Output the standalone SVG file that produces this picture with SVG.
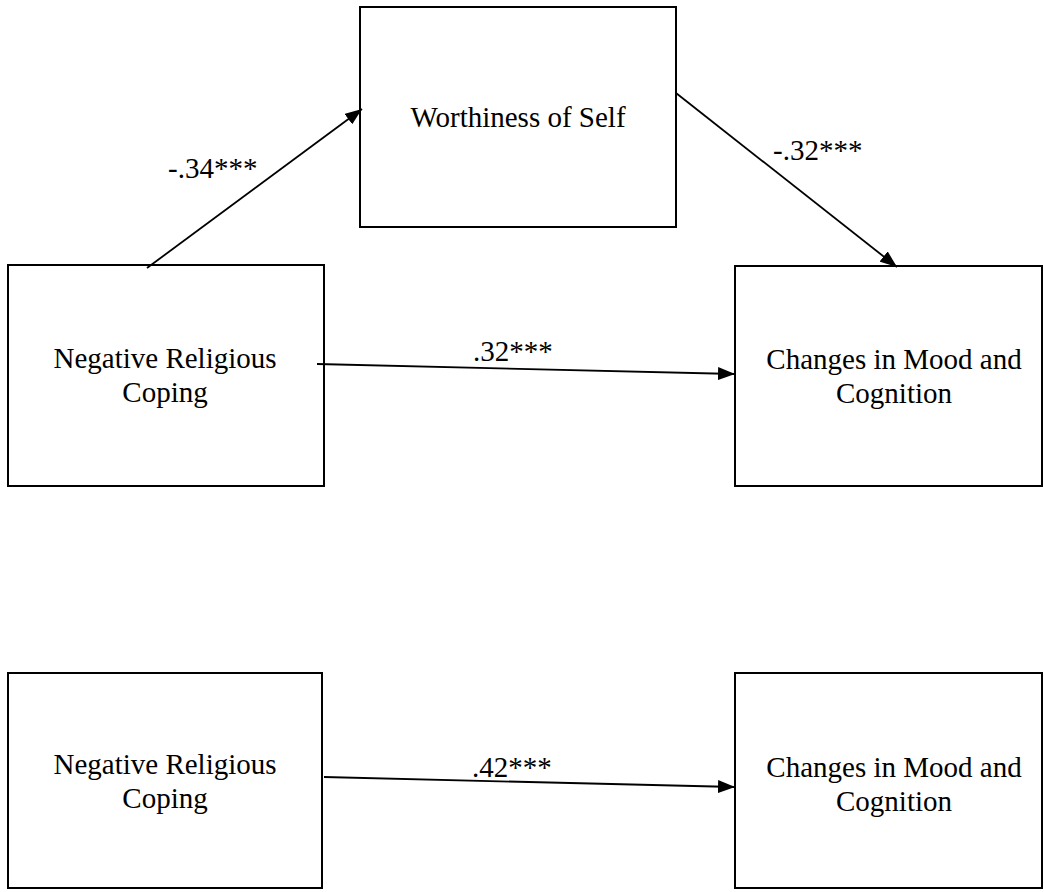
<svg xmlns="http://www.w3.org/2000/svg" width="1044" height="892" viewBox="0 0 1044 892">
  <style>
    .box { fill: #fff; stroke: #000; stroke-width: 2; }
    .lbl { font-family: "Liberation Serif", "Times New Roman", serif; font-size: 29px; fill: #000; }
    .mid { text-anchor: middle; }
    .edge { stroke: #000; stroke-width: 1.8; fill: none; marker-end: url(#arrow); }
  </style>
  <defs>
    <marker id="arrow" markerWidth="17" markerHeight="13" refX="17" refY="6.5" orient="auto" markerUnits="userSpaceOnUse">
      <path d="M0,0 L17,6.5 L0,13 Z" fill="#000"/>
    </marker>
  </defs>

  <!-- Mediation model -->
  <g id="worthiness">
    <rect class="box" x="360" y="7" width="316" height="220"/>
    <text class="lbl mid" x="518" y="127">Worthiness of Self</text>
  </g>
  <g id="coping-top">
    <rect class="box" x="8" y="265" width="316" height="221"/>
    <text class="lbl mid" x="165" y="368">Negative Religious</text>
    <text class="lbl mid" x="165" y="402">Coping</text>
  </g>
  <g id="mood-top">
    <rect class="box" x="735" y="266" width="307" height="220"/>
    <text class="lbl mid" x="894" y="369">Changes in Mood and</text>
    <text class="lbl mid" x="894" y="403">Cognition</text>
  </g>

  <!-- Direct-effect model -->
  <g id="coping-bottom">
    <rect class="box" x="8" y="673" width="314" height="215"/>
    <text class="lbl mid" x="165" y="774">Negative Religious</text>
    <text class="lbl mid" x="165" y="808">Coping</text>
  </g>
  <g id="mood-bottom">
    <rect class="box" x="735" y="673" width="307" height="215"/>
    <text class="lbl mid" x="894" y="777">Changes in Mood and</text>
    <text class="lbl mid" x="894" y="811">Cognition</text>
  </g>

  <g id="connectors">
    <line class="edge" x1="147" y1="268" x2="362" y2="109"/>
    <line class="edge" x1="676" y1="93" x2="897" y2="267"/>
    <line class="edge" x1="317" y1="364" x2="735" y2="374"/>
    <line class="edge" x1="324" y1="777" x2="735" y2="787"/>
    <text class="lbl" x="168" y="178">-.34***</text>
    <text class="lbl" x="773" y="160">-.32***</text>
    <text class="lbl" x="473" y="361">.32***</text>
    <text class="lbl" x="472" y="777">.42***</text>
  </g>
</svg>
